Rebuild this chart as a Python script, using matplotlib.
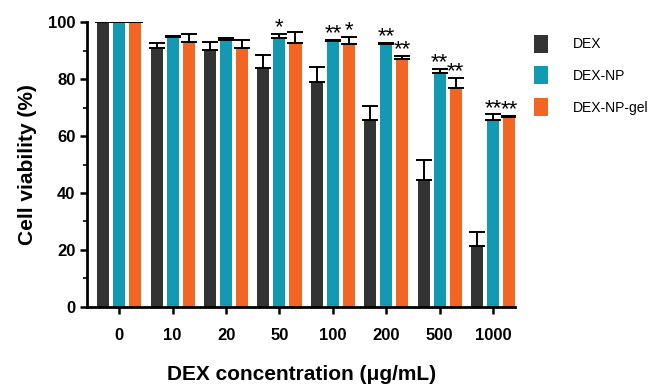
import numpy as np
import matplotlib
matplotlib.use("Agg")
import matplotlib.pyplot as plt
from matplotlib.ticker import MultipleLocator

plt.rcParams["font.family"] = ["Liberation Sans", "DejaVu Sans"]

concentrations = ["0", "10", "20", "50", "100", "200", "500", "1000"]
series = ["DEX", "DEX-NP", "DEX-NP-gel"]
colors = ["#333333", "#1399b2", "#f26522"]

dex = [100, 90.8, 90.2, 83.8, 79.0, 65.6, 44.6, 21.4]
dex_err = [0, 2.0, 2.8, 4.5, 5.2, 5.0, 7.0, 5.0]
dex_np = [100, 94.7, 93.8, 94.4, 93.5, 92.3, 82.1, 65.6]
dex_np_err = [0, 0.6, 0.6, 1.5, 0.4, 0.4, 1.5, 2.0]
dex_np_gel = [100, 93.1, 90.9, 92.6, 92.2, 87.0, 76.8, 66.6]
dex_np_gel_err = [0, 2.8, 2.8, 3.8, 2.5, 1.0, 3.6, 0.4]

# significance marks: (group index, series index, text)
stars = [(3, 1, "*"), (4, 1, "**"), (4, 2, "*"), (5, 1, "**"), (5, 2, "**"),
         (6, 1, "**"), (6, 2, "**"), (7, 1, "**"), (7, 2, "**")]

values = [dex, dex_np, dex_np_gel]
errors = [dex_err, dex_np_err, dex_np_gel_err]

fig = plt.figure(figsize=(6.56, 3.89), dpi=100)
ax = fig.add_axes([0.133, 0.211, 0.652, 0.732])

x = np.arange(len(concentrations))
w = 0.225
step = 0.3
for i, (vals, errs) in enumerate(zip(values, errors)):
    xs = x + (i - 1) * step
    ax.bar(xs, vals, width=w, color=colors[i], label=series[i], zorder=2)
    ax.errorbar(xs, vals, yerr=[np.zeros(len(errs)), errs], fmt="none",
                ecolor="black", elinewidth=1.4, capsize=6, capthick=1.4, zorder=3)

for g, s, txt in stars:
    top = values[s][g] + errors[s][g]
    ax.text(x[g] + (s - 1) * step, top - 1.5, txt, ha="center", va="bottom",
            fontsize=16, clip_on=False)

ax.set_xlim(-0.6, 7.41)
ax.set_ylim(0, 100)
ax.yaxis.set_major_locator(MultipleLocator(20))
ax.yaxis.set_minor_locator(MultipleLocator(10))
ax.set_xticks(x)
ax.set_xticklabels(concentrations)
for lab in ax.get_xticklabels() + ax.get_yticklabels():
    lab.set_fontweight("bold")
    lab.set_fontsize(12)
ax.tick_params(axis="both", width=1.8, length=5)
ax.tick_params(axis="y", which="minor", width=1.2, length=3)
ax.tick_params(axis="x", pad=10)

for side in ["top", "right"]:
    ax.spines[side].set_visible(False)
for side in ["left", "bottom"]:
    ax.spines[side].set_linewidth(2)

ax.set_ylabel("Cell viability (%)", fontsize=15, fontweight="bold", labelpad=8)
ax.set_xlabel("DEX concentration (\u03bcg/mL)", fontsize=15, fontweight="bold", labelpad=16)

ax.legend(loc="upper left", bbox_to_anchor=(1.015, 1.0), frameon=False,
          fontsize=10, handlelength=1.0, handleheight=1.6, labelspacing=1.0,
          handletextpad=1.8)

fig.savefig("out.png", dpi=100)
